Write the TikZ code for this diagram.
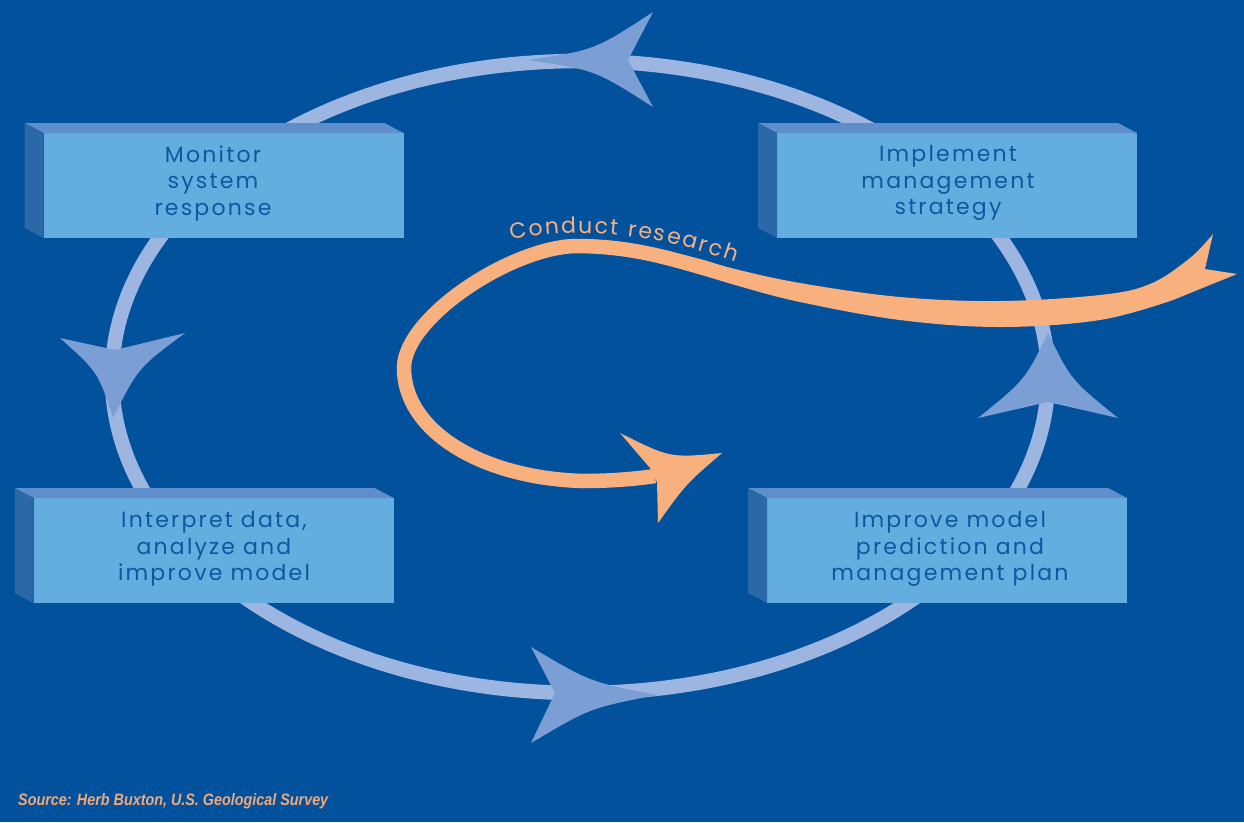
\documentclass[tikz,border=0pt]{standalone}
\usepackage{fontspec}
\usetikzlibrary{decorations.text}
\newfontfamily\boxfont[LetterSpace=10]{Poppins}
\newfontfamily\crfont{Poppins}
\newfontfamily\srcfont[FakeStretch=0.87]{Liberation Sans}
\definecolor{bg}{HTML}{02519C}
\definecolor{ringc}{HTML}{9DB5E1}
\definecolor{headc}{HTML}{7B9ED5}
\definecolor{facec}{HTML}{64ADDF}
\definecolor{topc}{HTML}{5E8ECB}
\definecolor{sidec}{HTML}{2A68A8}
\definecolor{txtc}{HTML}{0E58A2}
\definecolor{orangec}{HTML}{F9B07F}
\definecolor{srcc}{HTML}{F2A878}
\begin{document}
\begin{tikzpicture}[x=1pt,y=-1pt,
  face/.style={fill=facec, minimum width=360pt, minimum height=105pt, inner sep=0pt, outer sep=0pt},
  boxtext/.style={text=txtc, font=\boxfont\fontsize{22}{26.5}\selectfont, align=center, inner sep=0pt},
  ringhead/.style={fill=headc},
  ribbon/.style={draw=orangec, line width=14.5pt},
  topface/.style={fill=topc},
  sideface/.style={fill=sidec}]
% background
\fill[bg] (0,0) rectangle (1244,822);
% ring
\draw[ringc, line width=14.5pt] (580,377) ellipse [x radius=468pt, y radius=316pt];
% ring arrowheads
\fill[ringhead] (528,60) .. controls (595,50) .. (653,12) -- (628,60) -- (653,107) .. controls (595,70) .. (528,60) -- cycle;
\fill[ringhead] (113,418) .. controls (98,372) .. (60,338) -- (115,350) -- (185,333) .. controls (138,368) .. (113,418) -- cycle;
\fill[ringhead] (1048,333) .. controls (1025,380) .. (978,418) -- (1048,402) -- (1118,418) .. controls (1071,380) .. (1048,333) -- cycle;
\fill[ringhead] (657,695) .. controls (590,682) .. (531,647) -- (555,693) -- (531,743) .. controls (590,708) .. (657,695) -- cycle;
% boxes
\node[face] (monitor) at (223.5,185.5) {};
\node[face] (implement) at (957,185.5) {};
\node[face] (interpret) at (213.5,550.5) {};
\node[face] (improve) at (947,550.5) {};
\foreach \n in {monitor,implement,interpret,improve}{
  \fill[topface] (\n.north west) -- ([shift={(-19,-10)}]\n.north west) -- ([shift={(-19,-10)}]\n.north east) -- (\n.north east) -- cycle;
  \fill[sideface] (\n.north west) -- ([shift={(-19,-10)}]\n.north west) -- ([shift={(-19,-10)}]\n.south west) -- (\n.south west) -- cycle;
}
\node[boxtext] (monitor-t) at (213,183) {Monitor\\system\\response};
\node[boxtext] (implement-t) at (948,183) {Implement\\management\\strategy};
\node[boxtext] (interpret-t) at (214,549) {Interpret data,\\analyze and\\improve model};
\node[boxtext] (improve-t) at (950,549) {Improve model\\prediction and\\management plan};
% orange research arrow
\draw[ribbon] (735,277) .. controls (680,262) and (640,246) .. (575,246)
  .. controls (510,248) and (404,318) .. (404,368)
  .. controls (404,430) and (480,478) .. (583,481)
  .. controls (610,481) and (635,479) .. (655,476);
\fill[orangec] plot[smooth, tension=0.6] coordinates {(659,249) (700,259) (735,269) (800,283) (900,297) (1000,301) (1100,295) (1150,284) (1190,258) (1213,234)}
  -- (1205,269) -- (1237,274) --
  plot[smooth, tension=0.6] coordinates {(1173,300) (1100,320) (1000,327) (900,320) (800,302) (735,285) (700,274) (659,263)} -- cycle;
\fill[orangec] (620,433) -- (650,468) -- (657,482) -- (658,523) .. controls (686,484) .. (722,453) .. controls (670,458) .. (620,433) -- cycle;
\begin{scope}[y=1pt]
\path[decorate, decoration={text effects along path, text={Conduct research}, text align=center,
   text effects/.cd, text along path,
   character widths={font=\crfont\fontsize{22}{26}\selectfont, inner xsep=1.0pt},
   characters={text=orangec, font=\crfont\fontsize{22}{26}\selectfont, inner xsep=1.0pt}}]
   (508,-240) .. controls (580,-227) and (650,-232) .. (738,-263);
\end{scope}
% source
\node[anchor=base west, text=srcc, font=\srcfont\bfseries\itshape\fontsize{16.5}{19}\selectfont, inner sep=0pt] (source) at (18,805) {Source: Herb Buxton, U.S. Geological Survey};
\end{tikzpicture}
\end{document}
